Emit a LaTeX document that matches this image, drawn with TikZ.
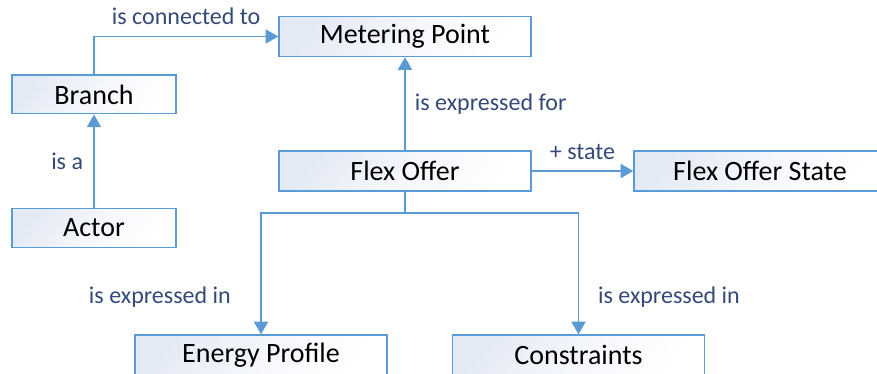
\documentclass[tikz,border=0pt]{standalone}
\usepackage{fontspec}
\setmainfont{Carlito}
\usetikzlibrary{arrows.meta,positioning}
\definecolor{linkblue}{HTML}{5B9BD5}
\definecolor{labelblue}{HTML}{34497A}
\definecolor{boxfill}{HTML}{E4EAF5}

\begin{document}
\begin{tikzpicture}[x=0.75pt,y=-0.75pt,
    box/.style={draw=linkblue, line width=1pt, top color=boxfill, bottom color=white,
      middle color=white!60!boxfill, shading angle=50,
      minimum width=189pt, minimum height=30pt, inner sep=0pt,
      font=\fontsize{21}{25}\selectfont},
    smallbox/.style={box, minimum width=123pt, minimum height=29pt},
    link/.style={draw=linkblue, line width=1.4pt, -{Triangle[length=9.5pt,width=10.5pt]}},
    lbl/.style={text=labelblue, inner sep=2pt, font=\fontsize{18}{21}\selectfont}]
  \useasboundingbox (0,0) rectangle (877,374);
  \clip (0,0) rectangle (877,374);

  \node[smallbox] (branch) at (94,94.5) {Branch};
  \node[smallbox] (actor)  at (94,228)  {Actor};
  \node[box] (mp)  at (405,36.5)  {Metering Point};
  \node[box] (fo)  at (405,171)   {Flex Offer};
  \node[box] (fos) at (760,171)   {Flex Offer State};
  \node[box] (ep)  at (261,355)   {Energy Profile};
  \node[box] (con) at (578.5,355) {Constraints};

  \draw[link] (actor) -- node[lbl,left,xshift=-5.5pt] {is a} (branch);
  \draw[link] (branch.north) |- node[lbl,pos=0.75,above,yshift=6pt] {is connected to} (mp.west);
  \draw[link] (fo) -- node[lbl,right,xshift=4.75pt] {is expressed for} (mp);
  \draw[link] (fo) -- node[lbl,above,yshift=5.5pt] {+ state} (fos);
  \draw[link] (fo.south) -- ++(0,21) -| node[lbl,pos=0.845,left,xshift=-20pt] {is expressed in} (ep.north);
  \draw[link] (fo.south) -- ++(0,21) -| node[lbl,pos=0.845,right,xshift=12pt] {is expressed in} (con.north);
\end{tikzpicture}
\end{document}
